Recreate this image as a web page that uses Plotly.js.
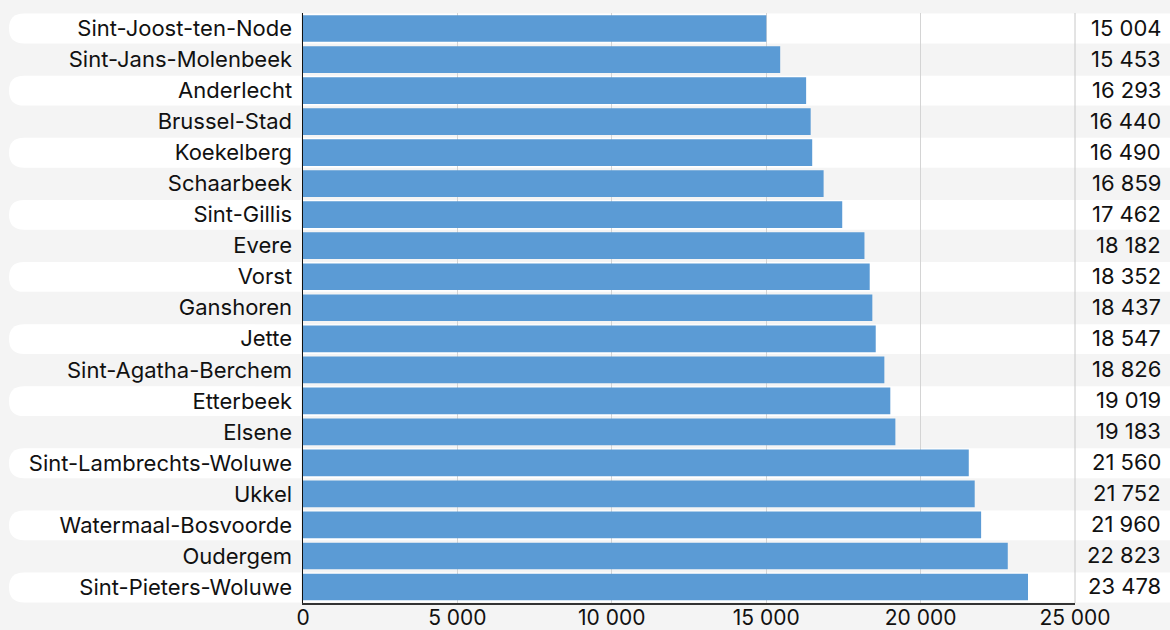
<!DOCTYPE html>
<html>
<head>
<meta charset="utf-8">
<script src="https://cdn.plot.ly/plotly-3.0.1.min.js"></script>
<style>html,body{margin:0;padding:0;background:#f4f4f4;}#chart{width:1170px;height:630px;}</style>
</head>
<body>
<div id="chart"></div>
<script>
const municipalities = ["Sint-Joost-ten-Node","Sint-Jans-Molenbeek","Anderlecht","Brussel-Stad","Koekelberg","Schaarbeek","Sint-Gillis","Evere","Vorst","Ganshoren","Jette","Sint-Agatha-Berchem","Etterbeek","Elsene","Sint-Lambrechts-Woluwe","Ukkel","Watermaal-Bosvoorde","Oudergem","Sint-Pieters-Woluwe"];
const values = [15004,15453,16293,16440,16490,16859,17462,18182,18352,18437,18547,18826,19019,19183,21560,21752,21960,22823,23478];
const tickValues = [0,5000,10000,15000,20000,25000];
const tickLabels = ["0","5 000","10 000","15 000","20 000","25 000"];

const W = 1170, H = 630;
const M = {l:303, r:95, t:13, b:27};
const pw = W - M.l - M.r, ph = H - M.t - M.b;
const n = municipalities.length;
const fmt = v => String(v).replace(/\B(?=(\d{3})+(?!\d))/g, " ");

const px2x = p => (p - M.l) / pw;
const shapes = [];
const insetY = 0.6 / ph;
for (let i = 0; i < n; i += 2) {
  const y1 = 1 - i / n - insetY;
  const y0 = 1 - (i + 1) / n + insetY;
  const xl = px2x(9), xr = px2x(301);
  const rx = 15 / pw, ry = (y1 - y0) / 2;
  shapes.push({type:'path', xref:'paper', yref:'paper', layer:'below', line:{width:0}, fillcolor:'#ffffff',
    path:`M ${xr} ${y1} L ${xl+rx} ${y1} Q ${xl} ${y1} ${xl} ${y1-ry} Q ${xl} ${y0} ${xl+rx} ${y0} L ${xr} ${y0} Z`});
  shapes.push({type:'rect', xref:'paper', yref:'paper', layer:'below', line:{width:0}, fillcolor:'#ffffff',
    x0: 0, x1: px2x(W), y0: y0, y1: y1});
}
// right border of plot area separating the value column
shapes.push({type:'line', xref:'paper', yref:'paper', layer:'below', x0:1, x1:1, y0:0, y1:1, line:{color:'#c8c8c8', width:1}});

const annotations = municipalities.map((m, i) => ({
  xref:'paper', yref:'y', x: px2x(1163), y: m, xanchor:'right', yanchor:'middle', yshift: 1,
  text: fmt(values[i]), showarrow:false, font:{size:22, color:'#111'}
}));

const trace = {
  type:'bar', orientation:'h', y: municipalities, x: values,
  marker:{color:'#5b9bd5', line:{width:0}}, hoverinfo:'x+y'
};

const layout = {
  width:W, height:H, margin:M,
  paper_bgcolor:'#f4f4f4', plot_bgcolor:'rgba(0,0,0,0)',
  font:{family:'Inter, "Open Sans", sans-serif', size:22, color:'#111'},
  bargap:0.14, showlegend:false,
  xaxis:{range:[0,25000], tickvals:tickValues, ticktext:tickLabels, showgrid:true, gridcolor:'#d4d4d4', gridwidth:1,
    zeroline:false, showline:true, linecolor:'#333', linewidth:1.5, ticks:'', ticklen:0, ticklabelstandoff:-5,
    tickfont:{size:21, color:'#111'}, fixedrange:true},
  yaxis:{autorange:'reversed', type:'category', showgrid:false, zeroline:false, showline:true, linecolor:'#111', linewidth:1.5,
    ticks:'outside', ticklen:5, tickcolor:'rgba(0,0,0,0)', tickfont:{size:22, color:'#111'}, fixedrange:true},
  shapes: shapes, annotations: annotations
};

Plotly.newPlot('chart', [trace], layout, {displayModeBar:false, staticPlot:true});
</script>
</body>
</html>
